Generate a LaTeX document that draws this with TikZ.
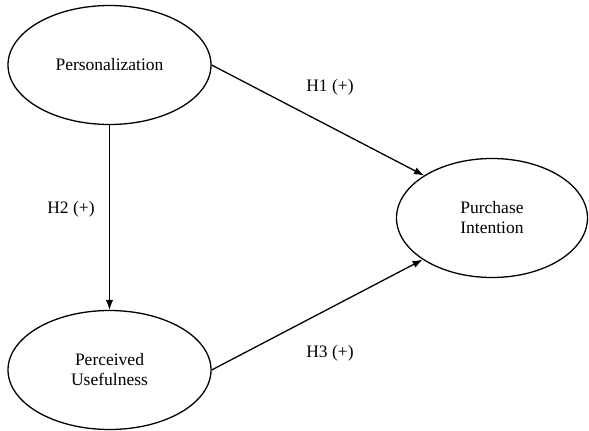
\documentclass[tikz,border=0pt]{standalone}
\usepackage{fontspec}
\setmainfont{Liberation Serif}
\usetikzlibrary{shapes.geometric,arrows.meta}
\begin{document}
\begin{tikzpicture}[x=1pt,y=-1pt,
  construct/.style={draw,ellipse,line width=1.3pt,minimum width=203pt,minimum height=119pt,inner sep=0pt,align=center,font=\fontsize{17.5}{20}\selectfont},
  path/.style={draw,line width=1.3pt,-{Latex[length=10pt,width=7.5pt]}},
  hlabel/.style={font=\fontsize{17.5}{20}\selectfont}]
\useasboundingbox (0,0) rectangle (589,431);
\node[construct] (pers) at (109.5,65) {Personalization};
\node[construct] (pu) at (109.5,370) {Perceived\\Usefulness};
\node[construct,minimum width=191pt] (pi) at (492,218) {Purchase\\Intention};
\draw[path] (pers.south) -- (pu.north);
\draw[path] (pers.east) -- (pi.148);
\draw[path] (pu.east) -- (pi.211.6);
\node[hlabel] (h1) at (330,87) {H1 (+)};
\node[hlabel] (h2) at (71,209) {H2 (+)};
\node[hlabel] (h3) at (330,353) {H3 (+)};
\end{tikzpicture}
\end{document}
